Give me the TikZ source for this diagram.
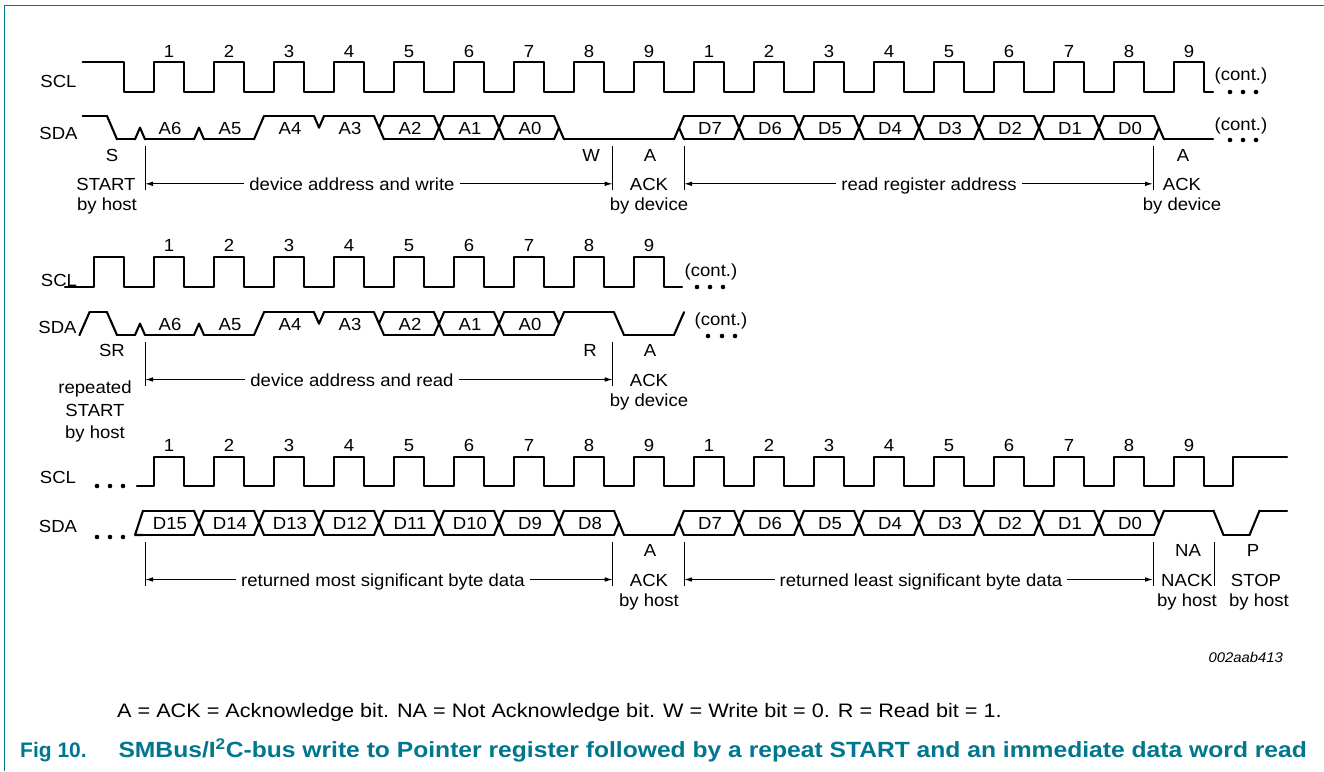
\documentclass[tikz,border=0pt]{standalone}
\usepackage{fontspec}
\setmainfont{Liberation Sans}
\newfontfamily\lblfont[FakeStretch=1.06]{Liberation Sans}
\newfontfamily\notefont[FakeStretch=1.11]{Liberation Sans}
\newfontfamily\capfont[FakeStretch=1.12]{Liberation Sans}
\usetikzlibrary{arrows.meta}
\definecolor{nxpteal}{RGB}{0,118,143}
\newcommand\sdawave[5]{%
  \pgfmathsetmacro\wH{#1}%
  \pgfmathsetmacro\wL{#2}%
  \pgfmathsetmacro\wM{(#1+#2)/2}%
  \foreach \x/\s [remember=\x as \px (initially #3-5), remember=\s as \ps (initially #4)] in {#5}{%
    \pgfmathsetmacro\xa{\px+5}%
    \ifnum\s=0\relax \pgfmathsetmacro\xb{\x}\else\pgfmathsetmacro\xb{\x-5}\fi
    \ifodd\ps\relax \draw[sig] (\xa,\wL) -- (\xb,\wL);\fi
    \ifnum\ps>1\relax \draw[sig] (\xa,\wH) -- (\xb,\wH);\fi
    \ifnum\s>0\relax
      \ifodd\ps\relax \draw[sig] (\xb,\wL) -- (\x,\wM);\fi
      \ifnum\ps>1\relax \draw[sig] (\xb,\wH) -- (\x,\wM);\fi
      \pgfmathsetmacro\xc{\x+5}%
      \ifodd\s\relax \draw[sig] (\x,\wM) -- (\xc,\wL);\fi
      \ifnum\s>1\relax \draw[sig] (\x,\wM) -- (\xc,\wH);\fi
    \fi
  }}
\begin{document}
\begin{tikzpicture}[x=1pt,y=-1pt,
  sig/.style={line width=2.1pt,line cap=round,line join=round},
  markline/.style={line width=1pt},
  arr/.style={line width=1pt,-{Latex[length=8pt,width=4.6pt]}},
  lbl/.style={font=\lblfont\fontsize{17.5}{20}\selectfont,inner sep=0pt,anchor=base},
  atxt/.style={lbl,inner xsep=5pt},
  note/.style={font=\notefont\fontsize{19.5}{23}\selectfont,inner sep=0pt,anchor=base west},
  figcap/.style={font=\bfseries\fontsize{21}{24}\selectfont,text=nxpteal,inner sep=0pt,anchor=base west}]
\useasboundingbox (0,0) rectangle (1324,771);
% frame
\draw[nxpteal,line width=1.3pt] (4.7,771) -- (4.7,5.5) -- (1324,5.5);

% ================= ROW 1 =================
\node[lbl] (r1scl) at (58.5,87.5) {SCL};
\node[lbl] (r1sda) at (58.5,139) {SDA};
\draw[sig] (82.7,62.3) -- (124,62.3) -- (124,91.7)
  \foreach \k in {0,...,17}{ -- ({154+60*\k},91.7) -- ({154+60*\k},62.3) -- ({184+60*\k},62.3) -- ({184+60*\k},91.7)} -- (1213,91.7);
\foreach \k [evaluate=\k as \n using {int(mod(\k,9)+1)}] in {0,...,17}
  \node[lbl] (r1n\k) at ({169+60*\k},57.2) {\n};
\sdawave{116}{139.3}{82.7}{2}{112/1, 140/1, 199/1, 259/2, 319/2, 379/3, 439/3, 499/3, 559/1, 679/3, 739/3, 799/3, 859/3, 919/3, 979/3, 1039/3, 1099/3, 1159/1, 1213/0}
\foreach \t [count=\j from 0] in {A6,A5,A4,A3,A2,A1,A0}
  \node[lbl] (r1a\j) at ({170+60*\j},134.2) {\t};
\foreach \t [count=\j from 9] in {D7,D6,D5,D4,D3,D2,D1,D0}
  \node[lbl] (r1d\j) at ({170+60*\j},134.2) {\t};
\node[lbl] (r1cont1) at (1241,80.7) {(cont.)};
\node[lbl] (r1cont2) at (1241,130.7) {(cont.)};
\foreach \xx in {1230,1243,1256}{\fill (\xx,92) circle (2.3); \fill (\xx,140) circle (2.3);}
\node[lbl] (r1S) at (112,161) {S};
\node[lbl] (r1W) at (591,161) {W};
\node[lbl] (r1A) at (650,161) {A};
\node[lbl] (r1A2) at (1183,161) {A};
\foreach \nm/\xx in {a/145,b/612.7,c/684,d/1153}{
  \coordinate (m1\nm T) at (\xx,146.3);
  \coordinate (m1\nm B) at (\xx,190.3);
  \draw[markline] (m1\nm T) -- (m1\nm B);}
\coordinate (r1arr) at (0,183.8);
\node[lbl] (r1start) at (106,190.3) {START};
\node[lbl] (r1host) at (107,210.8) {by host};
\node[lbl] (r1ack) at (649,190.3) {ACK};
\node[lbl] (r1dev) at (649,210.8) {by device};
\node[lbl] (r1ack2) at (1182,190.3) {ACK};
\node[lbl] (r1dev2) at (1182,210.8) {by device};
\node[atxt] (t1a) at (352,190.3) {device address and write};
\node[atxt] (t1b) at (929,190.3) {read register address};
\draw[arr] (t1a.west |- r1arr) -- (m1aT |- r1arr);
\draw[arr] (t1a.east |- r1arr) -- (m1bT |- r1arr);
\draw[arr] (t1b.west |- r1arr) -- (m1cT |- r1arr);
\draw[arr] (t1b.east |- r1arr) -- (m1dT |- r1arr);

% ================= ROW 2 =================
\node[lbl] (r2scl) at (59,286.5) {SCL};
\node[lbl] (r2sda) at (57.5,333.5) {SDA};
\draw[sig] (65,286.7) -- (94,286.7) -- (94,257.3) -- (124,257.3) -- (124,286.7)
  \foreach \k in {0,...,8}{ -- ({154+60*\k},286.7) -- ({154+60*\k},257.3) -- ({184+60*\k},257.3) -- ({184+60*\k},286.7)} -- (682,286.7);
\foreach \k [evaluate=\k as \n using {int(\k+1)}] in {0,...,8}
  \node[lbl] (r2n\k) at ({169+60*\k},251.8) {\n};
\sdawave{312.3}{335}{79.5}{1}{84.5/2, 112/1, 140/1, 199/1, 259/2, 319/2, 379/3, 439/3, 499/3, 559/2, 619/1, 679/2, 684/0}
\foreach \t [count=\j from 0] in {A6,A5,A4,A3,A2,A1,A0}
  \node[lbl] (r2a\j) at ({170+60*\j},330.2) {\t};
\node[lbl] (r2cont1) at (711,276.7) {(cont.)};
\node[lbl] (r2cont2) at (721,325) {(cont.)};
\foreach \xx in {697,710,723}{\fill (\xx,287) circle (2.3);}
\foreach \xx in {708,722,735}{\fill (\xx,336) circle (2.3);}
\node[lbl] (r2SR) at (112,356.7) {SR};
\node[lbl] (r2R) at (590,356.7) {R};
\node[lbl] (r2A) at (650,356.7) {A};
\foreach \nm/\xx in {a/145,b/612.7}{
  \coordinate (m2\nm T) at (\xx,342);
  \coordinate (m2\nm B) at (\xx,386);
  \draw[markline] (m2\nm T) -- (m2\nm B);}
\coordinate (r2arr) at (0,379.5);
\node[lbl] (r2rep) at (95,393) {repeated};
\node[lbl] (r2start) at (95,416.5) {START};
\node[lbl] (r2host) at (95,438) {by host};
\node[lbl] (r2ack) at (649,386) {ACK};
\node[lbl] (r2dev) at (649,406.5) {by device};
\node[atxt] (t2a) at (352,386) {device address and read};
\draw[arr] (t2a.west |- r2arr) -- (m2aT |- r2arr);
\draw[arr] (t2a.east |- r2arr) -- (m2bT |- r2arr);

% ================= ROW 3 =================
\node[lbl] (r3scl) at (58,483.5) {SCL};
\node[lbl] (r3sda) at (58,532) {SDA};
\foreach \xx in {97,110,123}{\fill (\xx,486) circle (2.3); \fill (\xx,537) circle (2.3);}
\draw[sig] (137,486)
  \foreach \k in {0,...,17}{ -- ({154+60*\k},486) -- ({154+60*\k},456.7) -- ({184+60*\k},456.7) -- ({184+60*\k},486)} -- (1233,486) -- (1233,456.7) -- (1287,456.7);
\foreach \k [evaluate=\k as \n using {int(mod(\k,9)+1)}] in {0,...,17}
  \node[lbl] (r3n\k) at ({169+60*\k},451.5) {\n};
\draw[sig] (135,535) -- (143,510.7) (135,535) -- (143,535);
\sdawave{510.7}{535}{143}{3}{199/3, 259/3, 319/3, 379/3, 439/3, 499/3, 559/3, 619/1, 679/3, 739/3, 799/3, 859/3, 919/3, 979/3, 1039/3, 1099/3, 1159/2, 1218.5/1, 1254.5/2, 1287/0}
\foreach \t [count=\j from 0] in {D15,D14,D13,D12,D11,D10,D9,D8}
  \node[lbl] (r3a\j) at ({170+60*\j},529.3) {\t};
\foreach \t [count=\j from 9] in {D7,D6,D5,D4,D3,D2,D1,D0}
  \node[lbl] (r3d\j) at ({170+60*\j},529.3) {\t};
\node[lbl] (r3A) at (650,556.7) {A};
\node[lbl] (r3NA) at (1188,556.7) {NA};
\node[lbl] (r3P) at (1253,556.7) {P};
\foreach \nm/\xx in {a/145,b/612.7,c/684,d/1153,e/1214}{
  \coordinate (m3\nm T) at (\xx,542);
  \coordinate (m3\nm B) at (\xx,586);
  \draw[markline] (m3\nm T) -- (m3\nm B);}
\coordinate (r3arr) at (0,579.5);
\node[lbl] (r3ack) at (649,586) {ACK};
\node[lbl] (r3host) at (649,606.5) {by host};
\node[lbl] (r3nack) at (1187,586) {NACK};
\node[lbl] (r3host2) at (1187,606.5) {by host};
\node[lbl] (r3stop) at (1256,586) {STOP};
\node[lbl] (r3host3) at (1259,606.5) {by host};
\node[atxt] (t3a) at (383,586) {returned most significant byte data};
\node[atxt] (t3b) at (921,586) {returned least significant byte data};
\draw[arr] (t3a.west |- r3arr) -- (m3aT |- r3arr);
\draw[arr] (t3a.east |- r3arr) -- (m3bT |- r3arr);
\draw[arr] (t3b.west |- r3arr) -- (m3cT |- r3arr);
\draw[arr] (t3b.east |- r3arr) -- (m3dT |- r3arr);

% ================= FOOTER =================
\node[font=\lblfont\itshape\fontsize{14}{16}\selectfont,inner sep=0pt,anchor=base east] (code) at (1283,662) {002aab413};
\node[note] (legend) at (117,717) {A = ACK = Acknowledge bit. NA = Not Acknowledge bit. W = Write bit = 0. R = Read bit = 1.};
\node[figcap] (fignum) at (20,757.3) {Fig 10.};
\node[figcap,font=\capfont\bfseries\fontsize{22}{25}\selectfont] (figtxt) at (118.3,757.3) {SMBus/I\textsuperscript{2}C-bus write to Pointer register followed by a repeat START and an immediate data word read};
\end{tikzpicture}
\end{document}
